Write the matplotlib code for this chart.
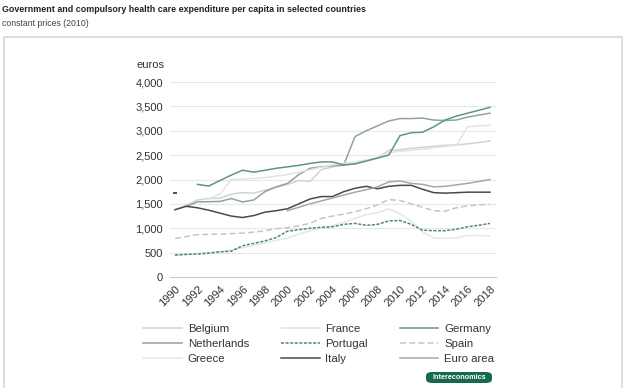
import numpy as np
import matplotlib.pyplot as plt
from matplotlib.patches import FancyBboxPatch, Rectangle

plt.rcParams["font.family"] = ["Liberation Sans", "DejaVu Sans"]

years = list(range(1990, 2019))
nan = np.nan

belgium = [1380, 1470, 1580, 1610, 1615, 1700, 1730, 1720, 1780, 1840,
           1900, 1980, 1960, 2200, 2260, 2290, 2320, 2380, 2440, 2600,
           2610, 2640, 2660, 2680, 2700, 2710, 2730, 2760, 2790]
france = [nan, nan, nan, 1600, 1700, 2000, 2010, 2020, 2040, 2070,
          2100, 2150, 2200, 2250, 2300, 2330, 2360, 2400, 2450, 2550,
          2580, 2600, 2620, 2650, 2680, 2700, 3080, 3100, 3110]
germany = [nan, nan, 1900, 1865, 1980, 2090, 2190, 2150, 2190, 2230,
           2260, 2290, 2330, 2360, 2360, 2300, 2320, 2380, 2440, 2500,
           2900, 2960, 2970, 3080, 3220, 3300, 3360, 3420, 3480]
netherlands = [nan, 1450, 1540, 1545, 1550, 1610, 1540, 1580, 1750, 1850,
               1920, 2100, 2230, 2260, 2280, 2300, 2880, 3000, 3100, 3200,
               3250, 3250, 3260, 3220, 3210, 3220, 3280, 3320, 3360]
portugal = [450, 465, 470, 490, 515, 530, 640, 690, 740, 810,
            940, 970, 1000, 1020, 1030, 1080, 1100, 1060, 1080, 1150,
            1160, 1080, 960, 950, 950, 980, 1030, 1060, 1100]
spain = [790, 830, 870, 875, 880, 890, 900, 920, 950, 990,
         1010, 1050, 1100, 1200, 1250, 1290, 1340, 1400, 1480, 1590,
         1570, 1500, 1430, 1360, 1350, 1420, 1460, 1480, 1490]
greece = [440, 460, 480, 500, 520, 550, 600, 650, 700, 750,
          800, 880, 950, 1000, 1050, 1120, 1200, 1280, 1320, 1400,
          1300, 1150, 930, 800, 790, 800, 850, 850, 840]
italy = [1380, 1450, 1420, 1370, 1310, 1250, 1220, 1260, 1330, 1360,
         1400, 1500, 1600, 1650, 1650, 1750, 1820, 1860, 1810, 1860,
         1880, 1880, 1800, 1730, 1720, 1730, 1740, 1740, 1740]
euro_area = [nan] * 10 + [1360, 1430, 1500, 1560, 1620, 1680, 1740, 1790, 1850, 1950,
                          1970, 1920, 1900, 1850, 1860, 1890, 1920, 1960, 2000]
lone_year = [1990]
lone_value = [1720]

yticks = [0, 500, 1000, 1500, 2000, 2500, 3000, 3500, 4000]
xticks = list(range(1990, 2019, 2))

fig = plt.figure(figsize=(6.3, 3.88), dpi=100)
fig.patch.set_facecolor("white")

fig.text(0.003, 0.988, "Government and compulsory health care expenditure per capita in selected countries",
         fontsize=6.4, fontweight="bold", color="#222222", va="top", ha="left")
fig.text(0.003, 0.952, "constant prices (2010)", fontsize=6.3, color="#444444", va="top", ha="left")
fig.patches.append(Rectangle((4 / 630, -0.01), 618 / 630, 1 - 37 / 388 + 0.01,
                             transform=fig.transFigure, fill=False, ec="#d8d8d8", lw=1.2))

ax = fig.add_axes([170 / 630, 1 - 277 / 388, 326 / 630, 195 / 388])
ax.set_xlim(1990 - 5 / 11.25, 2018 + 6 / 11.25)
ax.set_ylim(0, 4000)

series = [
    ("Belgium", belgium, "#cfd3d1", "-"),
    ("Netherlands", netherlands, "#8fa59b", "-"),
    ("Greece", greece, "#e4e8e6", "-"),
    ("France", france, "#e2e4e3", "-"),
    ("Portugal", portugal, "#4f8a73", (0, (2, 1))),
    ("Italy", italy, "#4a4a4a", "-"),
    ("Germany", germany, "#5f9683", "-"),
    ("Spain", spain, "#c4c6c5", (0, (4, 2))),
    ("Euro area", euro_area, "#a2aaa6", "-"),
]
for name, vals, col, ls in series:
    ax.plot(years, vals, color=col, ls=ls, lw=1.1, label=name)
ax.plot(lone_year, lone_value, ls="none", marker="_", ms=3, color="#333333", mew=1.2)

ax.set_yticks(yticks)
ax.set_yticklabels([f"{v:,}" for v in yticks])
ax.set_xticks(xticks)
ax.set_xticklabels([str(x) for x in xticks], rotation=45, ha="right", va="top",
                   rotation_mode="anchor")
ax.tick_params(axis="both", length=0, labelsize=8, colors="#333333")
ax.tick_params(axis="x", pad=5)
ax.tick_params(axis="y", pad=5)
ax.grid(axis="y", color="#e8e8e8", lw=0.8)
ax.set_axisbelow(True)
for s in ["top", "right", "left"]:
    ax.spines[s].set_visible(False)
ax.spines["bottom"].set_color("#cccccc")
ax.text(-0.103, 1.085, "euros", transform=ax.transAxes, fontsize=8, color="#333333",
        ha="left", va="center")

leg = fig.legend(loc="upper left", bbox_to_anchor=(133 / 630, 1 - 314 / 388), ncol=3,
                 frameon=False, fontsize=8.2, handlelength=3.4, handletextpad=0.5,
                 columnspacing=2.8, labelspacing=0.42)
for t in leg.get_texts():
    t.set_color("#333333")

fig.patches.append(FancyBboxPatch((426 / 630, 1 - 383 / 388), 66 / 630, 11 / 388,
                                  boxstyle="round,pad=0,rounding_size=0.01",
                                  transform=fig.transFigure, fc="#16694f", ec="none"))
fig.text(459 / 630, 1 - 377.5 / 388, "Intereconomics", fontsize=5.2, fontweight="bold",
         color="white", ha="center", va="center")

fig.savefig("out.png", dpi=100)
